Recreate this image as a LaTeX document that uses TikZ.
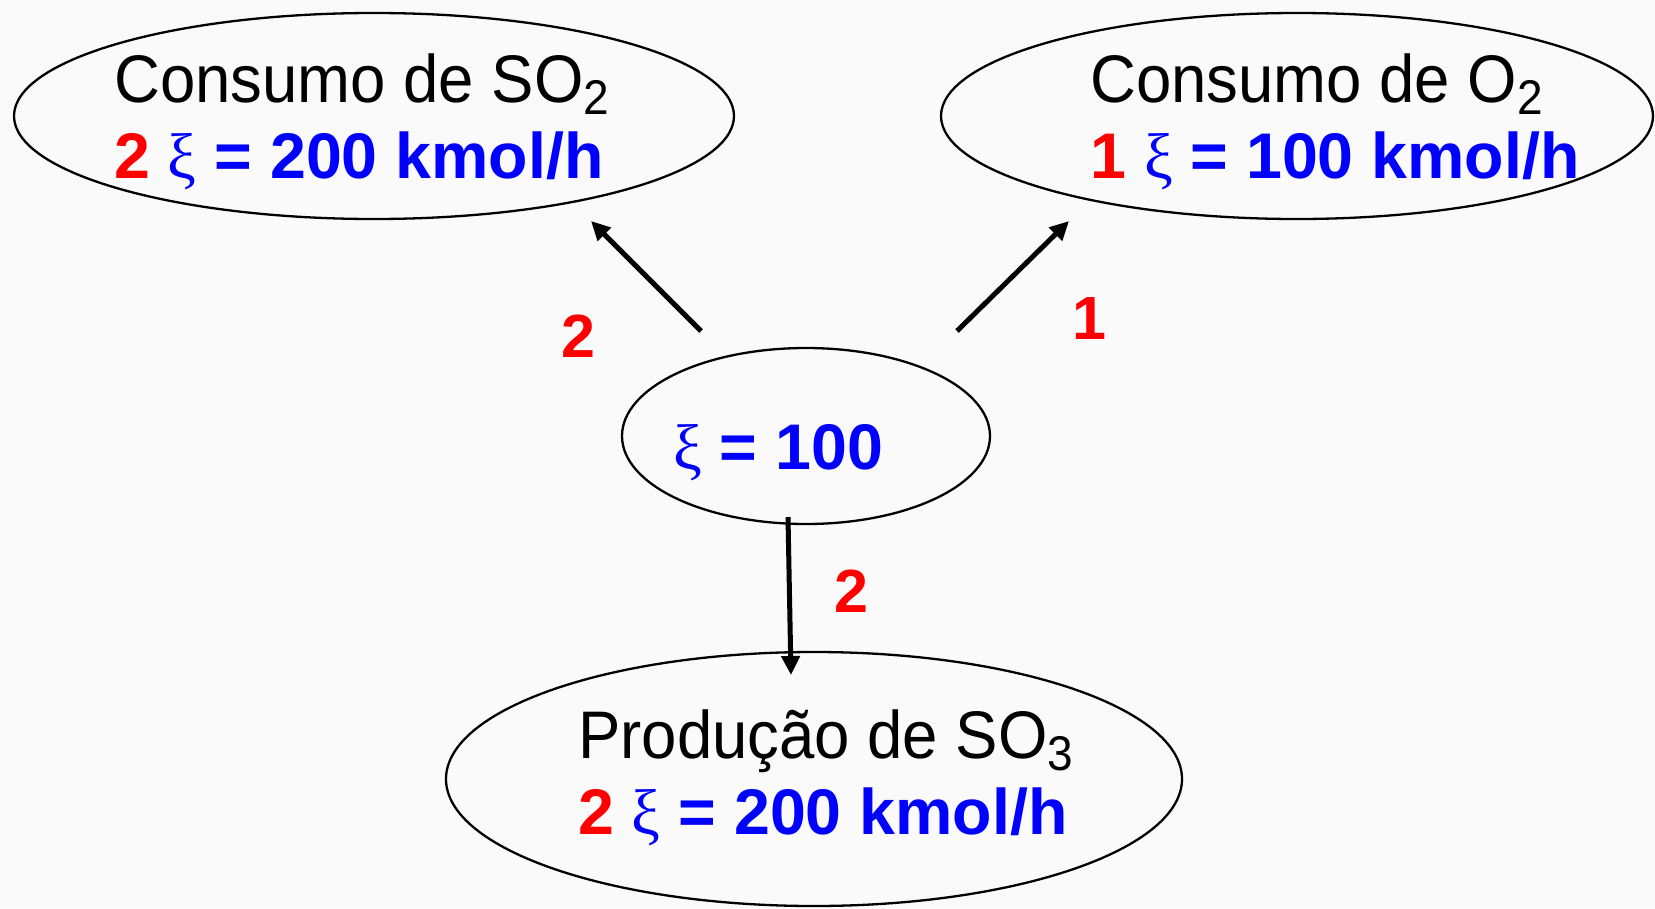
\documentclass[tikz,border=0pt]{standalone}
\usepackage{fontspec}
\setmainfont{Liberation Sans}
\newfontfamily\grk{Liberation Serif}
\usetikzlibrary{arrows.meta,shapes.geometric}
\definecolor{myred}{RGB}{255,0,0}
\definecolor{myblue}{RGB}{0,0,255}
\definecolor{bgc}{RGB}{250,250,250}
\newcommand{\xiv}{{\grk\mdseries ξ}}
\newcommand{\subsc}[1]{\raisebox{-12pt}{\fontsize{46}{46}\selectfont #1}}
\newcommand{\tall}[1]{\scalebox{1}[1.06]{#1}}
\begin{document}
\begin{tikzpicture}[x=1pt,y=-1pt,
  oval/.style={draw, ellipse, line width=2.3pt, inner sep=0pt},
  title/.style={anchor=base west, inner sep=0pt, font=\fontsize{63.5}{70}\selectfont},
  value/.style={anchor=base west, inner sep=0pt, text=myblue, font=\fontsize{64.5}{70}\selectfont\bfseries},
  coef/.style={inner sep=0pt, text=myred, font=\fontsize{61}{66}\selectfont\bfseries},
  arr/.style={line width=5pt, -{Triangle[length=19pt,width=18pt]}}]
\fill[bgc] (0,0) rectangle (1655,908);
\useasboundingbox (0,0) rectangle (1655,908);

% ellipses
\node[oval, minimum width=720pt, minimum height=206pt] (so2) at (374,116) {};
\node[oval, minimum width=712pt, minimum height=206pt] (o2) at (1297,116) {};
\node[oval, minimum width=368pt, minimum height=176pt] (xi) at (806,436) {};
\node[oval, minimum width=736pt, minimum height=254pt] (so3) at (814,779) {};

% texts
\node[title] (so2t) at (114,102) {\tall{Consumo de SO\subsc{2}}};
\node[value] (so2v) at (114,178) {\textcolor{myred}{2} \xiv{} = 200 kmol/h};
\node[title] (o2t) at (1090,102) {\tall{Consumo de O\subsc{2}}};
\node[value] (o2v) at (1090,178) {\textcolor{myred}{1} \xiv{} = 100 kmol/h};
\node[value] (xit) at (673,469) {\xiv{} = 100};
\node[title] (so3t) at (578,758) {\tall{Produção de SO\subsc{3}}};
\node[value] (so3v) at (578,834) {\textcolor{myred}{2} \xiv{} = 200 kmol/h};

% arrows
\coordinate (a1s) at (701,331);
\coordinate (a1e) at (591,221);
\coordinate (a2s) at (957,331);
\coordinate (a2e) at (1069,221);
\coordinate (a3s) at (788,517);
\coordinate (a3e) at (791,675);
\draw[arr] (a1s) -- (a1e);
\draw[arr] (a2s) -- (a2e);
\draw[arr] (a3s) -- (a3e);

% coefficients
\node[coef] (c1) at (578,336) {2};
\node[coef] (c2) at (1089,319) {1};
\node[coef] (c3) at (851,591) {2};
\end{tikzpicture}
\end{document}
